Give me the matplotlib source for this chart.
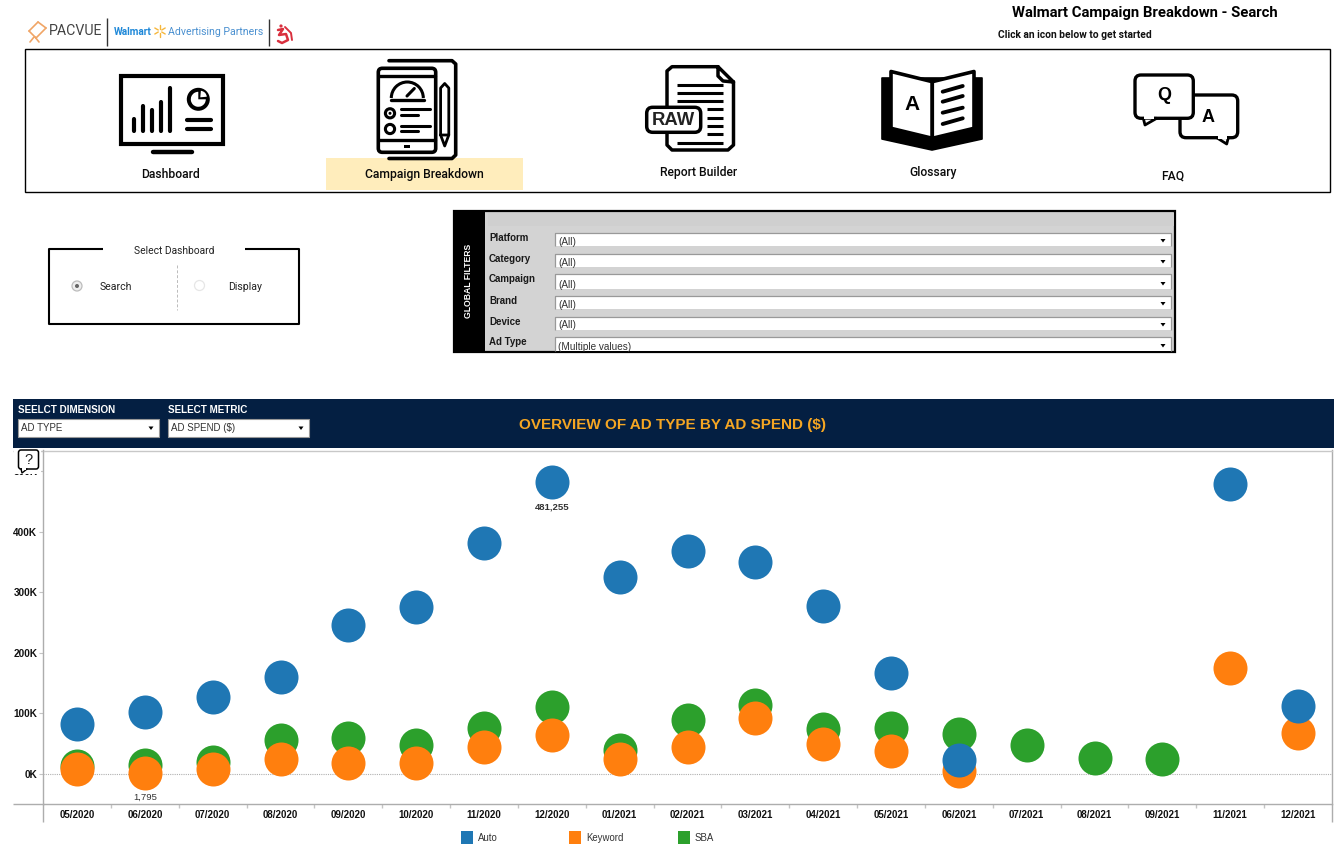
import numpy as np
import matplotlib
matplotlib.use("Agg")
import matplotlib.pyplot as plt
from matplotlib.patches import Rectangle, FancyBboxPatch, Circle, Polygon, Arc, Wedge

# ---------- data ----------
months = ["05/2020", "06/2020", "07/2020", "08/2020", "09/2020", "10/2020", "11/2020", "12/2020",
          "01/2021", "02/2021", "03/2021", "04/2021", "05/2021", "06/2021", "07/2021", "08/2021",
          "09/2021", "11/2021", "12/2021"]
auto = [82000, 102000, 127000, 160000, 246000, 275000, 381000, 481255, 325000, 368000, 350000,
        277000, 166000, 23000, None, None, None, 478000, 113000]
keyword = [8000, 1795, 8000, 25000, 18000, 18000, 44000, 64000, 25000, 44000, 92000,
           50000, 38000, 5000, None, None, None, 175000, 68000]
sba = [13000, 15000, 20000, 56000, 59000, 48000, 76000, 110000, 40000, 89000, 114000,
       74000, 76000, 66000, 48000, 27000, 25000, None, None]
y_ticks = [0, 100000, 200000, 300000, 400000, 500000]
y_labels = ["0K", "100K", "200K", "300K", "400K", "500K"]
series_names = ["Auto", "Keyword", "SBA"]
series_colors = ["#1F77B4", "#FF7F0E", "#2CA02C"]
filter_names = ["Platform", "Category", "Campaign", "Brand", "Device", "Ad Type"]
filter_values = ["(All)", "(All)", "(All)", "(All)", "(All)", "(Multiple values)"]

W, H = 1341, 857
UI = "Roboto"
AR = "Liberation Sans"
fig = plt.figure(figsize=(W / 100, H / 100), dpi=100, facecolor="white")


def px_axes(x0, y0, x1, y1, z):
    return fig.add_axes([x0 / W, 1 - y1 / H, (x1 - x0) / W, (y1 - y0) / H], zorder=z)


bg = fig.add_axes([0, 0, 1, 1], zorder=0)
bg.set_xlim(0, W)
bg.set_ylim(H, 0)
bg.axis("off")


def rect(a, x0, y0, x1, y1, fc="none", ec="none", lw=0, z=1):
    a.add_patch(Rectangle((x0, y0), x1 - x0, y1 - y0, facecolor=fc, edgecolor=ec, linewidth=lw, zorder=z))


def line(a, xs, ys, c="black", lw=2.5, z=3, cap="round", **kw):
    a.plot(xs, ys, color=c, lw=lw, solid_capstyle=cap, solid_joinstyle="round", zorder=z, **kw)


def rbox(a, x0, y0, x1, y1, r=4, fc="white", ec="black", lw=2.5, z=3):
    a.add_patch(FancyBboxPatch((x0 + r, y0 + r), x1 - x0 - 2 * r, y1 - y0 - 2 * r,
                               boxstyle=f"round,pad={r},rounding_size={r}",
                               facecolor=fc, edgecolor=ec, linewidth=lw, zorder=z))


def txt(a, x, y, s, size=8, fam=UI, weight="normal", c="black", ha="left", va="center", z=6, **kw):
    a.text(x, y, s, fontsize=size, family=fam, weight=weight, color=c, ha=ha, va=va, zorder=z, **kw)


# ---------- header ----------
txt(bg, 1145, 13, "Walmart Campaign Breakdown - Search", 10.75, weight="bold", ha="center")
txt(bg, 1075, 34.5, "Click an icon below to get started", 7.4, weight="bold", ha="center", c="#111111")

# logos
for xs, ys in [((29, 38), (31, 22)), ((38, 46), (22, 28)), ((46, 36), (28, 38)), ((36, 29), (38, 31)),
               ((34, 30), (37, 42)), ((35, 39), (37, 42))]:
    line(bg, xs, ys, c="#F0A566", lw=1.2)
txt(bg, 49, 30.5, "PACVUE", 10.2, c="#444444")
line(bg, (107.5, 107.5), (18, 46), c="#333333", lw=1, cap="butt")
txt(bg, 114, 31.5, "Walmart", 7.2, weight="bold", c="#1E88D8")
for ang in np.arange(30, 360, 60):
    a = np.deg2rad(ang)
    line(bg, (160 + 2 * np.cos(a), 160 + 6 * np.cos(a)), (31 + 2 * np.sin(a), 31 + 6 * np.sin(a)), c="#F6B73C", lw=1)
txt(bg, 168, 31.5, "Advertising Partners", 7.6, c="#4A90D0")
line(bg, (269.5, 269.5), (19, 46), c="#333333", lw=1, cap="butt")
line(bg, (278, 283, 279, 286, 288, 282, 278), (30, 29, 35, 34, 40, 43, 41), c="#D9303E", lw=1.8)
line(bg, (285, 291, 292), (27, 33, 40), c="#D9303E", lw=1.4)
bg.add_patch(Circle((281, 26), 1.6, fc="#D9303E", ec="none"))

# nav panel
rect(bg, 25.5, 48.5, 1330, 191.5, fc="white", ec="black", lw=1.0)
rect(bg, 326, 158, 523, 190, fc="#FFEDBC", z=1)
rect(bg, 119, 58, 226, 162, fc="#FBFBFB", z=0.5)
rect(bg, 366, 58, 468, 158, fc="#FBFBFB", z=0.5)
for x, y, s in [(170.5, 174.5, "Dashboard"), (424.5, 174.5, "Campaign Breakdown"),
                (698.5, 172.5, "Report Builder"), (933, 172.5, "Glossary"), (1173, 176.5, "FAQ")]:
    txt(bg, x, y, s, 8.7, ha="center", c="#0A0A0A", weight="medium")

# dashboard icon
rect(bg, 121, 76, 223, 143.5, fc="white", ec="black", lw=3, z=3)
line(bg, (153, 192), (151.7, 151.7), lw=3.2)
for x, t in zip((134, 143, 152, 161, 169.7), (119.3, 106, 110, 101.7, 88.3)):
    line(bg, (x, x), (t, 131), lw=3)
bg.add_patch(Circle((198.3, 99.3), 11.5, fc="black", ec="none", zorder=3))
bg.add_patch(Wedge((198.3, 99.3), 7.5, 0, 270, fc="white", ec="none", zorder=4))
bg.add_patch(Wedge((200.3, 97.3), 6.5, 275, 355, fc="white", ec="none", zorder=4))
line(bg, (187, 211), (120, 120), lw=3)
line(bg, (187, 211), (129.3, 129.3), lw=3)

# tablet icon
line(bg, (389, 452, 455.7, 455.7, 452, 389), (60.7, 60.7, 64, 155, 158.5, 158.5), lw=2.6)
rbox(bg, 378.3, 68.3, 435.7, 152.3, r=4, lw=2.6)
line(bg, (379, 435), (76, 76), lw=2.4, z=4)
line(bg, (379, 435), (140, 140), lw=2.4, z=4)
rect(bg, 404, 144.5, 410, 147.5, fc="black", z=4)
bg.add_patch(Arc((407.3, 98), 32, 32, theta1=180, theta2=360, lw=2.2, color="black", zorder=4))
line(bg, (391, 424.3), (99.5, 99.5), lw=2.4, z=4)
line(bg, (407, 414.3), (96, 88.5), lw=2.2, z=4)
for cy, dot in ((113.3, True), (129, False)):
    bg.add_patch(Circle((390, cy), 4.6, fc="white", ec="black", lw=2.2, zorder=4))
    if dot:
        bg.add_patch(Circle((390, cy), 1.5, fc="black", ec="none", zorder=5))
for y, x1 in ((109.3, 430), (115, 418.3), (126, 430), (131.3, 418.3)):
    line(bg, (401, x1), (y, y), lw=2.2, z=4)
line(bg, (440.6, 440.6, 444.7, 448.8, 448.8, 440.6), (135, 88, 83.5, 88, 135, 135), lw=2)
line(bg, (440.6, 444.7, 448.8), (135, 146, 135), lw=2)

# raw icon
line(bg, (718, 672, 667, 667, 672, 728, 733.5, 733.5, 718, 718, 723, 733.5),
     (66.7, 66.7, 71, 145, 150, 150, 145, 82, 66.7, 76, 81, 82), lw=2.5)
for y in (85, 92.7, 100.7, 142.7):
    line(bg, (677, 723), (y, y), lw=2.2, cap="butt")
for y in (109.3, 117.7, 126, 134.3):
    line(bg, (707, 723), (y, y), lw=2.2, cap="butt")
rbox(bg, 646.7, 107.3, 700.7, 132.3, r=6, lw=2.5, z=4)
txt(bg, 673.7, 120.3, "RAW", 13.3, fam=AR, weight="bold", ha="center", c="#222222")

# book icon
bg.add_patch(Polygon([(882, 78), (982, 78), (982, 139), (932, 150), (882, 139)], fc="black", ec="black", lw=1.2, joinstyle="round", zorder=2))
bg.add_patch(Polygon([(891, 71.5), (932.3, 81.7), (932.3, 138.3), (891, 128.3)], fc="white", ec="black", lw=2.6, joinstyle="round", zorder=3))
bg.add_patch(Polygon([(974, 71.5), (932.3, 81.7), (932.3, 138.3), (974, 128.3)], fc="white", ec="black", lw=2.6, joinstyle="round", zorder=3))
txt(bg, 911.7, 104, "A", 15, fam=AR, weight="bold", ha="center")
for y0, y1 in ((91.7, 86), (101.7, 96), (112.7, 107.7), (124, 118.3)):
    line(bg, (942.7, 962.7), (y0, y1), lw=2.8, z=4)

# faq icon
rbox(bg, 1180, 95, 1237.7, 137.7, r=6, lw=2.4, z=3)
bg.add_patch(Polygon([(1216.7, 137.7), (1226.7, 144), (1228.3, 137.7)], fc="white", ec="black", lw=2, joinstyle="round", zorder=3))
rect(bg, 1218, 135.5, 1227, 138.5, fc="white", z=3.2)
rbox(bg, 1135, 75, 1193.3, 118.3, r=6, lw=2.4, z=4)
bg.add_patch(Polygon([(1143.3, 118.3), (1145, 125), (1156.7, 118.3)], fc="white", ec="black", lw=2, joinstyle="round", zorder=4))
rect(bg, 1144.5, 116, 1154, 119, fc="white", z=4.2)
txt(bg, 1164, 95.5, "Q", 13, fam=AR, weight="bold", ha="center")
txt(bg, 1208.3, 117.3, "A", 13, fam=AR, weight="bold", ha="center")

# select dashboard panel
line(bg, (103, 49, 49, 299, 299, 245), (249, 249, 324, 324, 249, 249), lw=1.5, cap="butt")
txt(bg, 174.5, 251, "Select Dashboard", 7.4, ha="center", c="#222222")
line(bg, (177.5, 177.5), (265, 310), c="#BBBBBB", lw=0.7, ls=(0, (3, 2)), cap="butt")
bg.add_patch(Circle((77, 286), 5, fc="#EEEEEE", ec="#BDBDBD", lw=0.9, zorder=3))
bg.add_patch(Circle((77, 286), 2, fc="#666666", ec="none", zorder=4))
bg.add_patch(Circle((199.5, 285.5), 5, fc="white", ec="#E6E6E6", lw=0.9, zorder=3))
txt(bg, 100, 286.5, "Search", 7.6, c="#222222")
txt(bg, 228, 286.5, "Display", 7.6, c="#222222")

# global filters
rect(bg, 454, 211, 1175, 351.5, fc="#D3D3D3", ec="black", lw=1.6)
rect(bg, 454, 211, 485, 352, fc="black", z=2)
rect(bg, 488, 212.5, 1174, 226, fc="#CFCFCF", z=2)
txt(bg, 469, 281, "GLOBAL FILTERS", 6.2, fam=AR, weight="bold", c="white", ha="center", rotation=90)
lab_y = [238, 259, 279, 301, 322, 342]
box_y = [(233, 246), (254, 267), (274, 289), (296, 309), (317, 330), (337, 351)]
for i, name in enumerate(filter_names):
    txt(bg, 489, lab_y[i], name, 7, fam=AR, weight="bold", c="#1A1A1A")
    y0, y1 = box_y[i]
    rect(bg, 555.5, y0, 1171, y1, fc="white", z=2)
    line(bg, (555.5, 555.5, 1171, 1171), (y1, y0, y0, y1), c="#999999", lw=0.9, z=3, cap="butt")
    txt(bg, 558, y1 - 4.5, filter_values[i], 7.2, fam=AR, c="#333333")
    bg.add_patch(Polygon([(1160.5, y1 - 7), (1165.5, y1 - 7), (1163, y1 - 3.5)], fc="black", ec="none", zorder=4))

# dark banner
rect(bg, 13, 399, 1334, 448, fc="#041F42", z=1)
txt(bg, 18, 409.5, "SEELCT DIMENSION", 7.1, fam=AR, weight="bold", c="white")
txt(bg, 168, 409.5, "SELECT METRIC", 7.1, fam=AR, weight="bold", c="white")
for x0, x1, s in ((18, 159, "AD TYPE"), (168, 309, "AD SPEND ($)")):
    rect(bg, x0, 419, x1, 436.5, fc="white", ec="#999999", lw=0.8, z=2)
    txt(bg, x0 + 3.5, 427.5, s, 7, fam=AR, c="#333333")
    bg.add_patch(Polygon([(x1 - 10.5, 426.5), (x1 - 5.5, 426.5), (x1 - 8, 430)], fc="black", ec="none", zorder=4))
txt(bg, 673, 424.5, "OVERVIEW OF AD TYPE BY AD SPEND ($)", 10.95, fam=AR, weight="bold", c="#F5A623", ha="center")

# ---------- chart ----------
px_per_cat = (1298 - 77) / 18
px_per_val = 60.6 / 100000
ax = px_axes(43.5, 450.5, 1332, 804, 1)
ax.patch.set_alpha(0)
ax.set_xlim((43.5 - 77) / px_per_cat, (1332 - 77) / px_per_cat)
ax.set_ylim((774 - 804) / px_per_val, (774 - 450.5) / px_per_val)

x = np.arange(len(months))
for name, vals, col, z in ((series_names[2], sba, series_colors[2], 3),
                           (series_names[1], keyword, series_colors[1], 4),
                           (series_names[0], auto, series_colors[0], 5)):
    v = np.array([np.nan if d is None else d for d in vals], dtype=float)
    ax.scatter(x, v, s=600, color=col, linewidths=0, zorder=z, label=name, clip_on=False)

ax.axhline(0, color="#B0B0B0", lw=0.8, ls=(0, (1, 1)), zorder=1)
for sp in ax.spines.values():
    sp.set_color("#ADADAD")
    sp.set_linewidth(1.0)
ax.spines["top"].set_color("#C8C8C8")
ax.set_xticks(x)
ax.set_xticklabels(months, fontsize=7, family=AR, weight="bold", color="#111111")
ax.set_xticks(np.arange(len(months) - 1) + 0.5, minor=True)
ax.tick_params(axis="x", which="major", length=0, pad=4)
ax.tick_params(axis="x", which="minor", length=3, color="#C4C4C4", width=1)
ax.set_yticks(y_ticks)
ax.set_yticklabels(y_labels, fontsize=7.2, family=AR, weight="bold", color="#111111")
ax.tick_params(axis="y", length=3, color="#C4C4C4", width=0.8, pad=1.5)

for arr, i in ((auto, 7), (keyword, 1)):
    ax.annotate(f"{arr[i]:,}", (x[i], arr[i]), xytext=(0, -17.5), textcoords="offset points",
                ha="center", va="center", fontsize=6.8, family=AR,
                weight="bold" if i == 7 else "normal", color="#333333", zorder=8)

# axis extensions
line(bg, (13, 44), (804, 804), c="#ADADAD", lw=1.0, cap="butt")
line(bg, (13, 44), (450.5, 450.5), c="#C8C8C8", lw=1.0, cap="butt")
line(bg, (43.5, 43.5), (804, 822), c="#ADADAD", lw=1.0, cap="butt")
line(bg, (1332, 1332), (804, 822), c="#ADADAD", lw=1.0, cap="butt")

# legend
lg_x = [461, 569, 678]
for lx, name, col in zip(lg_x, series_names, series_colors):
    rect(bg, lx, 831, lx + 12.5, 844, fc=col, z=3)
    txt(bg, lx + 17, 838, name, 6.9, fam=AR, c="#333333")

# help icon over the clipped top label
ov = fig.add_axes([0, 0, 1, 1], zorder=3)
ov.set_xlim(0, W)
ov.set_ylim(H, 0)
ov.axis("off")
ov.patch.set_alpha(0)
rect(ov, 14, 449, 41, 474, fc="white", z=1)
rbox(ov, 18.5, 450, 38.5, 469, r=2.5, lw=1.1, z=2)
ov.add_patch(Polygon([(21, 469), (22, 473), (27, 469)], fc="white", ec="black", lw=1, joinstyle="round", zorder=2))
rect(ov, 22, 467.8, 26.5, 469.6, fc="white", z=2.2)
txt(ov, 28.5, 459.5, "?", 10.5, fam=AR, ha="center", c="#222222")

fig.savefig("out.png", dpi=100, facecolor="white")
